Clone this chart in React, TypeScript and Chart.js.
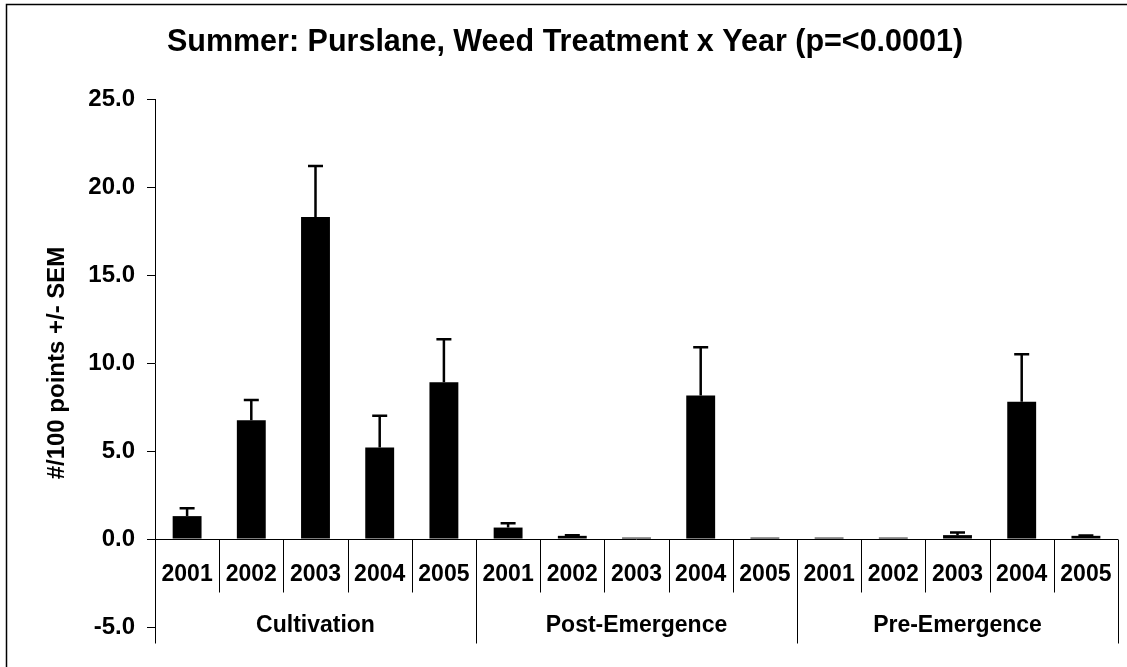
import React, { useEffect, useRef } from "react";
import { Chart, registerables } from "chart.js";

Chart.register(...registerables);

const years = ["2001", "2002", "2003", "2004", "2005"];
const groups = ["Cultivation", "Post-Emergence", "Pre-Emergence"];
const categories = groups.flatMap((g) => years.map((y) => `${g} ${y}`));
const means = [1.3, 6.75, 18.3, 5.2, 8.9, 0.65, 0.18, 0.08, 8.15, 0.08, 0.08, 0.08, 0.22, 7.8, 0.18];
const sems = [0.45, 1.15, 2.9, 1.8, 2.45, 0.25, 0.03, 0, 2.75, 0, 0, 0, 0.15, 2.7, 0.02];
const yMin = -5;
const yMax = 25;
const yStep = 5;
const title = "Summer: Purslane, Weed Treatment x Year (p=<0.0001)";
const yTitle = "#/100 points +/- SEM";

const FONT = '"Liberation Sans", Arial, Helvetica, sans-serif';

const decorPlugin = {
  id: "decor",
  afterDatasetsDraw(chart: any) {
    const ctx = chart.ctx;
    const y = chart.scales.y;
    const meta = chart.getDatasetMeta(0);
    ctx.save();
    ctx.strokeStyle = "#000";
    // error bars
    ctx.lineWidth = 2.5;
    meta.data.forEach((bar: any, i: number) => {
      const e = sems[i];
      if (!e) return;
      const cx = bar.x;
      const top = y.getPixelForValue(means[i]);
      const et = y.getPixelForValue(means[i] + e);
      ctx.beginPath();
      ctx.moveTo(cx, top);
      ctx.lineTo(cx, et);
      ctx.moveTo(cx - 7.5, et);
      ctx.lineTo(cx + 7.5, et);
      ctx.stroke();
    });
    // zero line
    const y0 = Math.round(y.getPixelForValue(0)) + 0.5;
    const left = chart.chartArea.left;
    const right = chart.chartArea.right;
    ctx.lineWidth = 1;
    ctx.beginPath();
    ctx.moveTo(left, y0);
    ctx.lineTo(right, y0);
    ctx.stroke();
    // separators
    const n = categories.length;
    const w = (right - left) / n;
    for (let k = 0; k <= n; k++) {
      const px = Math.round(left + k * w) + 0.5;
      const isGroup = k % years.length === 0;
      ctx.beginPath();
      ctx.moveTo(px, y0);
      ctx.lineTo(px, isGroup ? y0 + 104 : y0 + 53);
      ctx.stroke();
    }
    ctx.restore();
  },
  afterDraw(chart: any) {
    const ctx = chart.ctx;
    const y = chart.scales.y;
    const left = chart.chartArea.left;
    const right = chart.chartArea.right;
    const y0 = y.getPixelForValue(0);
    const n = categories.length;
    const w = (right - left) / n;
    ctx.save();
    ctx.fillStyle = "#000";
    ctx.textAlign = "center";
    ctx.textBaseline = "middle";
    ctx.font = `bold 23px ${FONT}`;
    categories.forEach((c, i) => {
      ctx.fillText(years[i % years.length], left + (i + 0.5) * w, y0 + 36);
    });
    ctx.font = `bold 23px ${FONT}`;
    groups.forEach((g, gi) => {
      ctx.fillText(g, left + (gi + 0.5) * years.length * w, y0 + 87);
    });
    // title
    ctx.font = `bold 30.5px ${FONT}`;
    ctx.fillText(title, 565, 43);
    // y title
    ctx.save();
    ctx.translate(57, (chart.chartArea.top + chart.chartArea.bottom) / 2);
    ctx.rotate(-Math.PI / 2);
    ctx.font = `bold 24px ${FONT}`;
    ctx.fillText(yTitle, 0, 0);
    ctx.restore();
    // frame
    ctx.strokeStyle = "#000";
    ctx.lineWidth = 1.5;
    ctx.beginPath();
    ctx.moveTo(6.5, 700);
    ctx.lineTo(6.5, 4.5);
    ctx.lineTo(1200, 4.5);
    ctx.stroke();
    ctx.restore();
  },
};

export default function App() {
  const ref = useRef<HTMLCanvasElement | null>(null);
  useEffect(() => {
    if (!ref.current) return;
    const chart = new Chart(ref.current, {
      type: "bar",
      data: {
        labels: categories,
        datasets: [
          {
            data: means,
            backgroundColor: "#000",
            borderWidth: 0,
            barPercentage: 0.45,
            categoryPercentage: 1,
          },
        ],
      },
      options: {
        responsive: false,
        animation: false,
        devicePixelRatio: 1,
        layout: { padding: { top: 99, bottom: 40, right: 9, left: 0 } },
        plugins: {
          legend: { display: false },
          title: { display: false },
          tooltip: { enabled: false },
        },
        scales: {
          x: { display: false, offset: true },
          y: {
            min: yMin,
            max: yMax,
            afterFit: (s: any) => {
              s.width = 155;
            },
            ticks: {
              stepSize: yStep,
              callback: (v: any) => Number(v).toFixed(1),
              color: "#000",
              padding: 12,
              font: { family: FONT, size: 24, weight: "bold" },
            },
            grid: {
              display: true,
              drawOnChartArea: false,
              drawTicks: true,
              tickLength: 8,
              color: "#000",
              tickColor: "#000",
            },
            border: { display: true, color: "#000", width: 1 },
          },
        },
      },
      plugins: [decorPlugin],
    });
    return () => chart.destroy();
  }, []);
  return (
    <div style={{ position: "absolute", left: 0, top: 0, width: 1127, height: 667, background: "#fff" }}>
      <canvas ref={ref} width={1127} height={667} style={{ display: "block" }} />
    </div>
  );
}
